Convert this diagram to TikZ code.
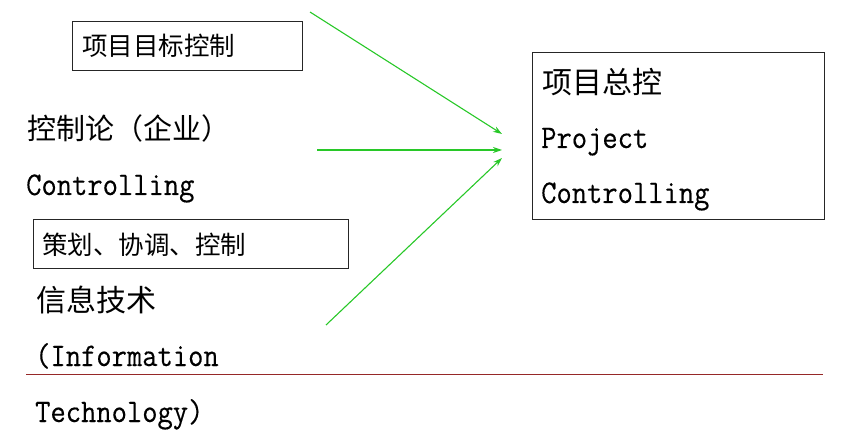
\documentclass[tikz,border=0pt]{standalone}
\usepackage{fontspec}
\setmonofont{Latin Modern Mono}[FakeStretch=0.9,FakeBold=0.3]
\newfontfamily\cjk{Noto Sans CJK SC}
\usetikzlibrary{arrows.meta}
\definecolor{feedgreen}{RGB}{40,200,40}
\definecolor{rulered}{RGB}{150,40,40}

\begin{document}
\begin{tikzpicture}[x=1pt,y=-1pt,
    cn/.style={inner sep=0pt,anchor=west,font=\cjk\fontsize{#1}{#1}\selectfont},
    cn/.default=25.5,
    lat/.style={inner sep=0pt,anchor=base west,font=\ttfamily\fontsize{33}{33}\selectfont},
    frame/.style={draw=black!85,line width=0.9pt,anchor=north west,inner sep=0pt},
    feed/.style={draw=feedgreen,line width=1.1pt,-{Stealth[length=9pt,width=6pt]}}]
  \useasboundingbox (0,0) rectangle (848,438);
  % left column
  \node[frame,minimum width=230pt,minimum height=49pt] (goalbox) at (72,21) {};
  \node[cn] (goal) at (82,46) {项目目标控制};
  \node[cn=29] (theory) at (27,128) {控制论（企业）};
  \node[lat] (ctrl) at (26,195) {Controlling};
  \node[frame,minimum width=315pt,minimum height=49pt] (planbox) at (33,219) {};
  \node[cn] (plan) at (42,245) {策划、协调、控制};
  \node[cn=30] (it) at (36,300) {信息技术};
  \node[lat] (info) at (35,366) {(Information};
  \node[lat] (tech) at (35,422) {Technology)};
  \draw[rulered,line width=0.9pt] (26,374) -- (823,374);
  % right box
  \node[frame,minimum width=292pt,minimum height=167pt] (total) at (532,52) {};
  \node[cn=30] (totalcn) at (542,82) {项目总控};
  \node[lat] (proj) at (541,148) {Project};
  \node[lat] (projctrl) at (541,203) {Controlling};
  % arrows
  \coordinate (fromgoal) at (310,12);
  \coordinate (fromtheory) at (317,150);
  \coordinate (fromit) at (326,325);
  \coordinate (togoal) at (502,134);
  \coordinate (totheory) at (502,150);
  \coordinate (toit) at (502,158);
  \begin{scope}[feed]
    \draw (fromgoal) -- (togoal);
    \draw (fromtheory) -- (totheory);
    \draw (fromit) -- (toit);
  \end{scope}
\end{tikzpicture}
\end{document}
